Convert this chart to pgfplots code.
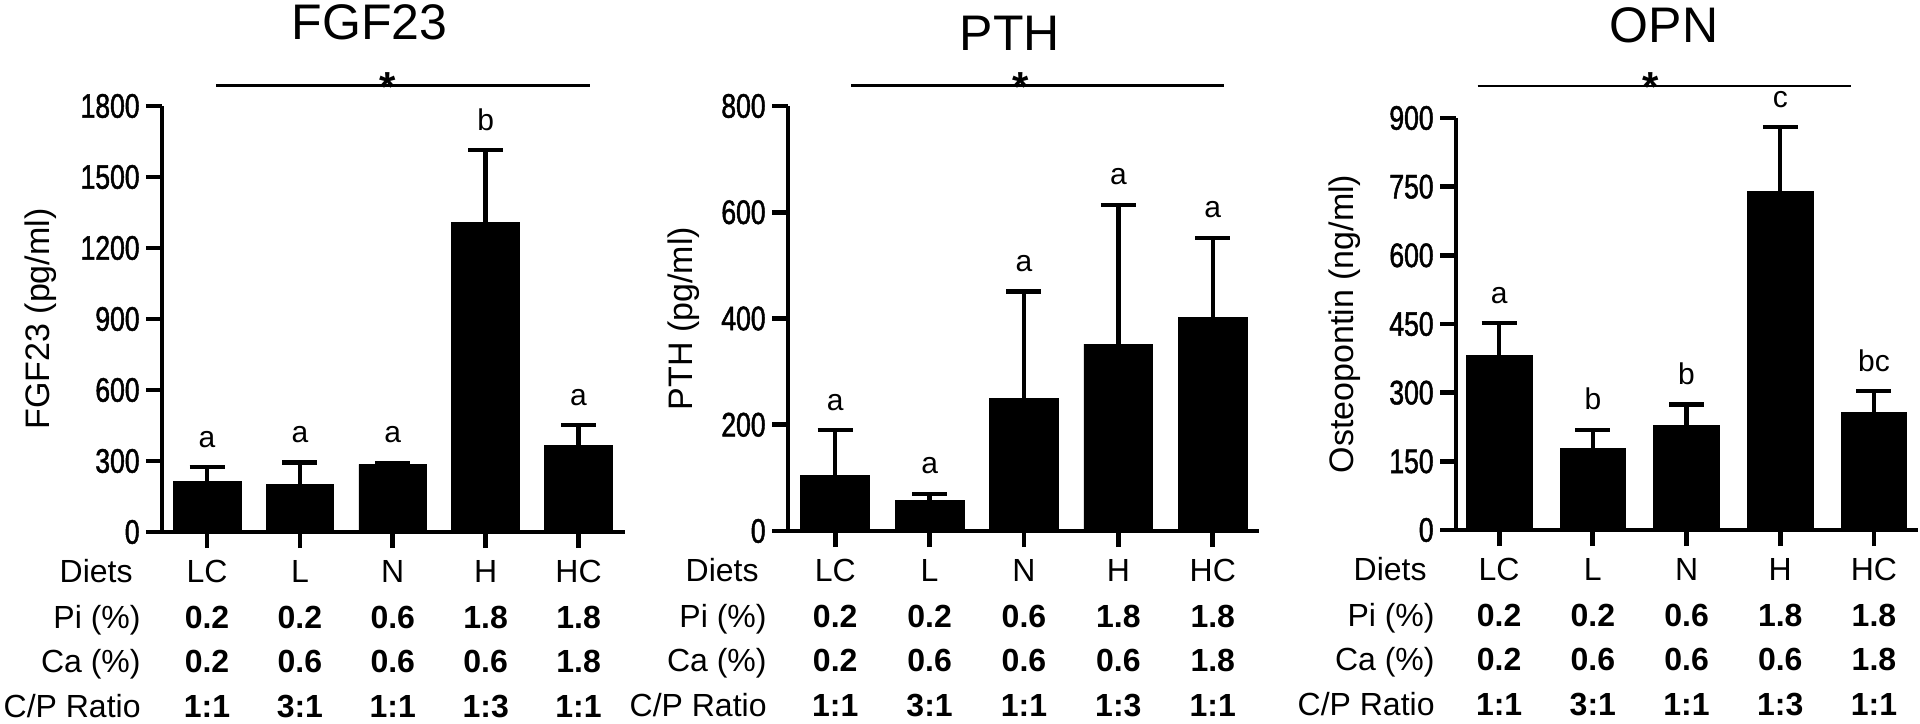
\documentclass[border=0pt]{standalone}
\usepackage{fontspec}
\setmainfont{Liberation Sans}
\newfontfamily\narrowfont[FakeStretch=0.78, FakeBold=1.4]{Liberation Sans}
\usepackage{pgfplots}
\pgfplotsset{compat=1.18}

% 1 px of the reference = 0.5pt
\newcommand\fs[1]{\fontsize{#1}{#1}\selectfont}

\pgfplotsset{
  panel/.style={
    scale only axis,
    anchor=south west,
    axis lines*=left,
    axis line style={line width=2.4pt, -},
    tick style={line width=2.4pt, black},
    tick align=outside,
    major tick length=8pt,
    xtick={0,...,4},
    xticklabels={},
    ymin=0,
    clip=false,
    ybar,
    bar width=0.73,
    yticklabel style={font=\narrowfont\fs{17}, inner sep=0pt, xshift=-3pt},
    /pgf/number format/assume math mode=true,
    /pgf/number format/1000 sep={},
    ylabel style={font=\fs{17}, anchor=center},
  },
  bars/.style={
    fill=black, draw=black,
    error bars/.cd,
      y dir=plus, y explicit,
      error bar style={line width=2.2pt, black},
      error mark options={rotate=90, line width=2.2pt, mark size=8.75pt, black},
  },
}

\tikzset{
  letter/.style={anchor=base, yshift=10pt, font=\fs{15}, inner sep=0pt},
  rowlab/.style={anchor=base east, xshift=-10.5pt, font=\fs{16}, inner sep=0pt},
  val/.style={anchor=base, font=\fs{16}, inner sep=0pt},
  star/.style={anchor=base, yshift=-8pt, font=\fs{21}\bfseries, inner sep=0pt},
  ttl/.style={anchor=base, font=\fs{25}, inner sep=0pt},
  sig/.style={line width=1.4pt},
}

% table under each panel
\newcommand\rowlabels{%
  \node[rowlab, xshift=-4pt, yshift=-25pt] at (rel axis cs:0,0) {Diets};
  \node[rowlab, yshift=-48pt] at (rel axis cs:0,0) {Pi (\%)};
  \node[rowlab, yshift=-70pt] at (rel axis cs:0,0) {Ca (\%)};
  \node[rowlab, yshift=-92.5pt] at (rel axis cs:0,0) {C/P Ratio};
}
\newcommand\tabrow[6]{%
  \node[val, yshift=#1] at (axis cs:0,0) {#2};
  \node[val, yshift=#1] at (axis cs:1,0) {#3};
  \node[val, yshift=#1] at (axis cs:2,0) {#4};
  \node[val, yshift=#1] at (axis cs:3,0) {#5};
  \node[val, yshift=#1] at (axis cs:4,0) {#6};
}
\newcommand\dietable{%
  \rowlabels
  \tabrow{-25pt}{LC}{L}{N}{H}{HC}
  \tabrow{-48pt}{\bfseries 0.2}{\bfseries 0.2}{\bfseries 0.6}{\bfseries 1.8}{\bfseries 1.8}
  \tabrow{-70pt}{\bfseries 0.2}{\bfseries 0.6}{\bfseries 0.6}{\bfseries 0.6}{\bfseries 1.8}
  \tabrow{-92.5pt}{\bfseries 1:1}{\bfseries 3:1}{\bfseries 1:1}{\bfseries 1:3}{\bfseries 1:1}
}

\begin{document}
\begin{tikzpicture}
\useasboundingbox (0,0) rectangle (960pt,361.5pt);

% ---------------- FGF23
\begin{axis}[panel,
  at={(81pt,95.5pt)}, width=231.5pt, height=213pt,
  xmin=-0.485, xmax=4.5, ymax=1800,
  ytick={0,300,...,1800},
  ylabel={FGF23 (pg/ml)},
  ylabel style={at={(axis description cs:-0.261,0.5)}},
]
\addplot[bars] coordinates {
  (0,214) +- (0,60)
  (1,200) +- (0,93)
  (2,286) +- (0,6)
  (3,1307) +- (0,307)
  (4,364) +- (0,88)
};
\node[letter] at (axis cs:0,274) {a};
\node[letter] at (axis cs:1,293) {a};
\node[letter] at (axis cs:2,292) {a};
\node[letter] at (axis cs:3,1614) {b};
\node[letter] at (axis cs:4,452) {a};
\draw[sig] (axis cs:0.1,1885) -- (axis cs:4.12,1885);
\node[star] at (axis cs:1.94,1885) {*};
\node[ttl] at (axis cs:1.75,2079) {FGF23};
\dietable
\end{axis}

% ---------------- PTH
\begin{axis}[panel,
  at={(394pt,96pt)}, width=235.5pt, height=212.5pt,
  xmin=-0.5, xmax=4.49, ymax=800,
  ytick={0,200,...,800},
  ylabel={PTH (pg/ml)},
  ylabel style={at={(axis description cs:-0.222,0.5)}},
]
\addplot[bars] coordinates {
  (0,104) +- (0,86)
  (1,57) +- (0,13)
  (2,250) +- (0,201)
  (3,352) +- (0,262)
  (4,402) +- (0,150)
};
\node[letter] at (axis cs:0,190) {a};
\node[letter] at (axis cs:1,70) {a};
\node[letter] at (axis cs:2,451) {a};
\node[letter] at (axis cs:3,614) {a};
\node[letter] at (axis cs:4,552) {a};
\draw[sig] (axis cs:0.17,838) -- (axis cs:4.12,838);
\node[star] at (axis cs:1.97,838) {*};
\node[ttl] at (axis cs:1.85,905) {PTH};
\dietable
\end{axis}

% ---------------- OPN
\begin{axis}[panel,
  at={(728pt,96.5pt)}, width=231pt, height=206pt,
  xmin=-0.46, xmax=4.47, ymax=900,
  bar width=0.70,
  ytick={0,150,...,900},
  ylabel={Osteopontin (ng/ml)},
  ylabel style={at={(axis description cs:-0.242,0.5)}},
]
\addplot[bars] coordinates {
  (0,381) +- (0,71)
  (1,179) +- (0,40)
  (2,228) +- (0,46)
  (3,740) +- (0,140)
  (4,257) +- (0,46)
};
\node[letter] at (axis cs:0,452) {a};
\node[letter] at (axis cs:1,219) {b};
\node[letter] at (axis cs:2,274) {b};
\node[letter] at (axis cs:3,880) {c};
\node[letter] at (axis cs:4,303) {bc};
\draw[sig] (axis cs:-0.23,970) -- (axis cs:3.75,970);
\node[star] at (axis cs:1.62,970) {*};
\node[ttl] at (axis cs:1.76,1066) {OPN};
\dietable
\end{axis}
\end{tikzpicture}
\end{document}
